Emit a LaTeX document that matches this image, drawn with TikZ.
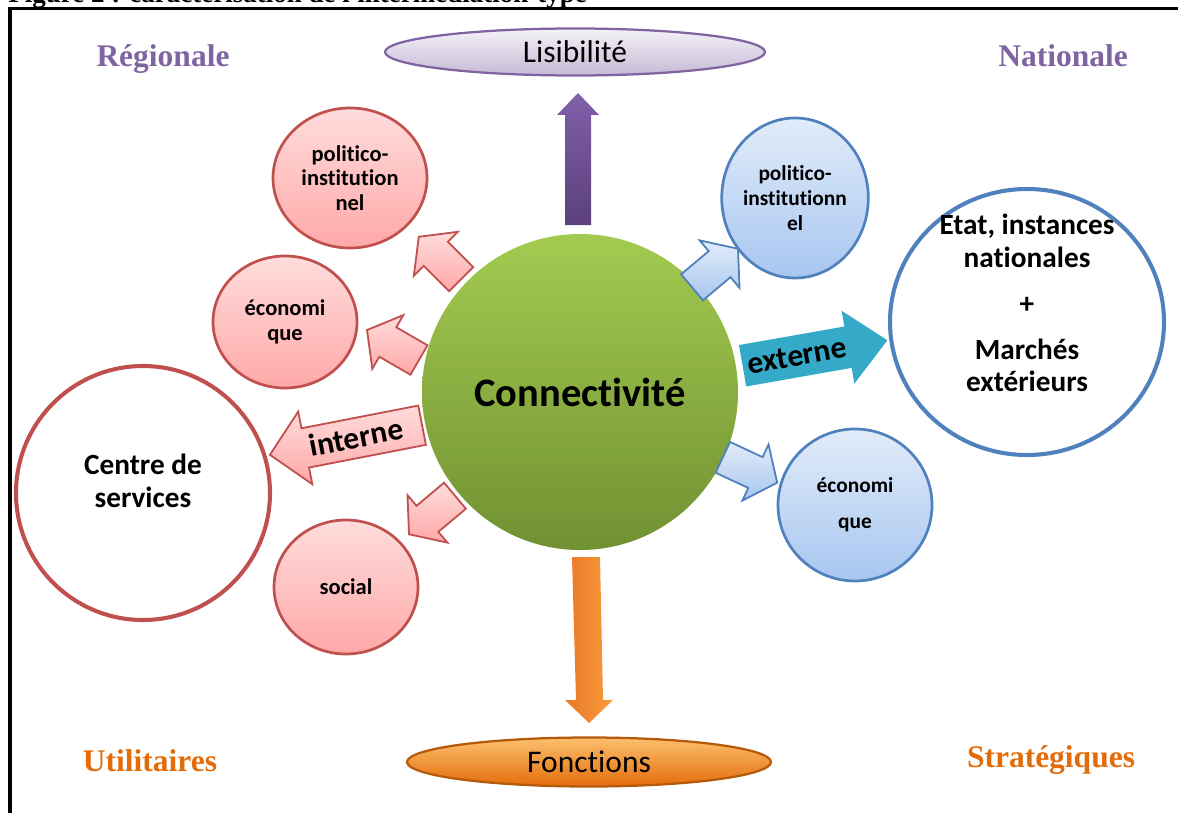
\documentclass[tikz,border=0pt]{standalone}
\usepackage{fontspec}
\setmainfont{Carlito}[Ligatures=NoCommon]
\newfontfamily\tnr{Liberation Serif}
\usetikzlibrary{shapes.geometric}
\definecolor{rborder}{HTML}{C0504D}
\definecolor{rtop}{HTML}{FFDCDC}
\definecolor{rbot}{HTML}{FFA8A8}
\definecolor{bborder}{HTML}{4F81BD}
\definecolor{btop}{HTML}{E2ECFA}
\definecolor{bbot}{HTML}{A7C6F0}
\definecolor{purp}{HTML}{8064A2}
\definecolor{orng}{HTML}{E36C09}
\newcommand\pxu{0.4444pt}
\newcommand\blockarr[8]{\begin{scope}[shift={(#2,#3)},rotate=#4]
 \path[#1] (-#5/2,-#6) -- ({#5/2-#8},-#6) -- ({#5/2-#8},-#7) -- (#5/2,0) -- ({#5/2-#8},#7) -- ({#5/2-#8},#6) -- (-#5/2,#6) -- cycle;
\end{scope}}
\begin{document}
\begin{tikzpicture}[x=0.4444pt,y=-0.4444pt,
  redc/.style={ellipse,draw=rborder,line width=1.2pt,top color=rtop,bottom color=rbot,align=center,font=\bfseries\fontsize{10}{11}\selectfont,inner sep=0pt},
  bluec/.style={ellipse,draw=bborder,line width=1.2pt,top color=btop,bottom color=bbot,align=center,font=\bfseries\fontsize{9.5}{11}\selectfont,inner sep=0pt},
  redarr/.style={draw=rborder,line width=0.8pt,top color=rtop,bottom color=rbot},
  bluearr/.style={draw=bborder,line width=0.8pt,top color=btop,bottom color=bbot},
  corner/.style={font=\tnr\bfseries\fontsize{14}{16}\selectfont,anchor=base},
  bigtxt/.style={align=center,font=\bfseries\fontsize{13}{14.5}\selectfont},
  oval/.style={ellipse,line width=1pt,inner sep=0pt,font=\fontsize{14}{16}\selectfont}]
\useasboundingbox (0,0) rectangle (1178,812);
\begin{scope}
\clip (0,0) rectangle (1178,812);
\node[anchor=base west,font=\tnr\bfseries\fontsize{12}{14}\selectfont,inner sep=0pt] (cap) at (8,3) {Figure 2 : caractérisation de l'intermédiation-type};
\draw[line width=1.4pt] (10,820) -- (10,8.5) -- (1190,8.5);
\end{scope}

% corner labels
\node[corner,text=purp] (reg) at (163,67) {Régionale};
\node[corner,text=purp] (nat) at (1063,67) {Nationale};
\node[corner,text=orng] (uti) at (150,771) {Utilitaires};
\node[corner,text=orng] (str) at (1051,767) {Stratégiques};

% top and bottom ovals
\node[oval,draw=purp,top color=purp!8,bottom color=purp!45,minimum width={380*\pxu},minimum height={47*\pxu}] (lis) at (575,52) {Lisibilité};
\node[oval,draw={rgb,255:red,180;green,90;blue,10},top color={rgb,255:red,252;green,192;blue,110},middle color={rgb,255:red,247;green,150;blue,60},bottom color={rgb,255:red,228;green,108;blue,10},minimum width={364*\pxu},minimum height={49*\pxu}] (fon) at (589,762) {Fonctions};

% center
\node[circle,minimum size={316*\pxu},inner sep=0pt,top color={rgb,255:red,163;green,203;blue,80},bottom color={rgb,255:red,112;green,145;blue,50},font=\bfseries\fontsize{18}{20}\selectfont] (con) at (580,392) {Connectivité};

% vertical arrows
\path[top color={rgb,255:red,128;green,96;blue,170},bottom color={rgb,255:red,92;green,64;blue,124}]
  (565,225) -- (565,115) -- (557,115) -- (578,93) -- (599,115) -- (591,115) -- (591,225) -- cycle;
\path[left color={rgb,255:red,232;green,120;blue,40},right color={rgb,255:red,250;green,155;blue,60}]
  (572,557) -- (600,557) -- (603,700) -- (613,700) -- (589,723) -- (565,700) -- (576,700) -- cycle;

% red circles
\node[redc,minimum width={154*\pxu},minimum height={140*\pxu}] (rpol) at (350,178) {politico-\\institution\\nel};
\node[redc,minimum width={144*\pxu},minimum height={132*\pxu}] (reco) at (285,322) {économi\\que};
\node[redc,minimum width={144*\pxu},minimum height={134*\pxu}] (rsoc) at (346,587) {social};
\node[circle,draw=rborder,line width=1.8pt,fill=white,minimum size={254*\pxu},inner sep=0pt] (csv) at (143,493) {};
\node[bigtxt] (csvt) at (143,481) {Centre de\\services};

% blue circles
\node[bluec,minimum width={122*\pxu},minimum height={160*\pxu}] (bpol) at (795,198) {politico-\\institutionn\\el};
\node[bluec,minimum width={154*\pxu},minimum height={152*\pxu},font=\bfseries\fontsize{9.5}{16}\selectfont] (beco) at (855,505) {économi\\que};
\node[ellipse,draw=bborder,line width=1.8pt,fill=white,minimum width={274*\pxu},minimum height={266*\pxu},inner sep=0pt] (etat) at (1027,322) {};
\node[bigtxt] (etatt) at (1027,303) {Etat, instances\\nationales\\[6pt]+\\[6pt]Marchés\\extérieurs};

% small arrows
\blockarr{redarr}{440}{258}{135}{60}{17}{31}{24}
\blockarr{redarr}{393}{345}{150}{60}{17}{31}{24}
\blockarr{redarr}{432}{515}{220}{60}{17}{31}{24}
\blockarr{bluearr}{715}{268}{40}{60}{17}{31}{24}
\blockarr{bluearr}{750}{470}{-25}{60}{17}{31}{24}

% labelled arrows
\blockarr{redarr}{346}{440}{191}{155}{20}{37}{36}
\node[rotate=11,font=\bfseries\fontsize{14}{16}\selectfont] (int) at (356,437) {interne};
\blockarr{fill={rgb,255:red,52;green,170;blue,200}}{815}{353}{10}{147}{21}{37}{40}
\node[rotate=10,font=\bfseries\fontsize{14}{16}\selectfont] (ext) at (797,356) {externe};
\end{tikzpicture}
\end{document}
